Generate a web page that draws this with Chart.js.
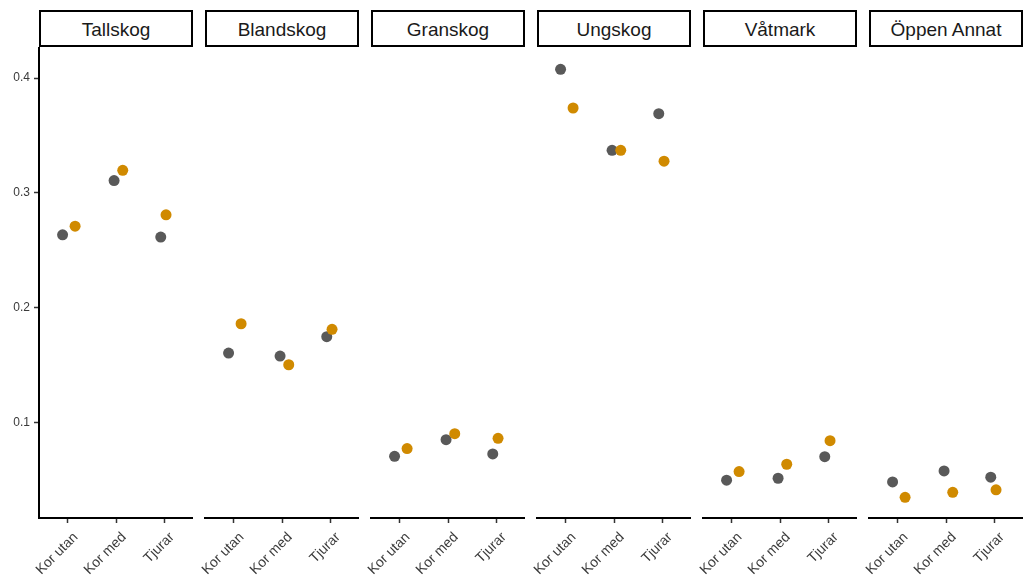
<!DOCTYPE html>
<html>
<head>
<meta charset="utf-8">
<script src="https://cdn.jsdelivr.net/npm/chart.js@4"></script>
<style>
  html, body { margin: 0; padding: 0; background: #fff; }
  #wrap { position: relative; width: 1023px; height: 578px; overflow: hidden; }
  canvas { position: absolute; }
  .strip {
    position: absolute; top: 10px; height: 37px; width: 154px;
    box-sizing: border-box; border: 2px solid #000;
    display: flex; align-items: center; justify-content: center;
    font-family: "Liberation Sans", Arial, sans-serif; font-size: 19px; color: #1a1a1a;
    padding-top: 2px;
  }
</style>
</head>
<body>
<div id="wrap"></div>
<script>
// Facetted dot chart: one small scatter per habitat, grey vs orange group per category

const panels = ["Tallskog", "Blandskog", "Granskog", "Ungskog", "Våtmark", "Öppen Annat"]
const categories = ["Kor utan", "Kor med", "Tjurar"]

// one row per panel, one value per category
const greySeries = [
  [0.2635, 0.3107, 0.2615],
  [0.1606, 0.1580, 0.1748],
  [0.0707, 0.0852, 0.0728],
  [0.4076, 0.3371, 0.3690],
  [0.0499, 0.0516, 0.0704],
  [0.0484, 0.0580, 0.0525]
]
const orangeSeries = [
  [0.2710, 0.3197, 0.2809],
  [0.1861, 0.1504, 0.1812],
  [0.0774, 0.0904, 0.0864],
  [0.3739, 0.3371, 0.3276],
  [0.0574, 0.0638, 0.0843],
  [0.0350, 0.0394, 0.0415]
]

// horizontal jitter (category units), same in every panel
const greyJitter = [-0.11, -0.04, -0.07]
const orangeJitter = [0.15, 0.14, 0.04]

const yTicks = [0.1, 0.2, 0.3, 0.4]
const yTickLabels = ["0.1", "0.2", "0.3", "0.4"]

const GREY = "#595959"
const ORANGE = "#D08A00"
const PANEL_LEFT = 39
const PANEL_STEP = 166
const PANEL_WIDTH = 154
const AXIS_W = 39

const wrap = document.getElementById("wrap")

function toPoints(values, jitter) {
  return values.map((v, i) => ({ x: i + 1 + jitter[i], y: v }))
}

function makePanel(idx) {
  const left = PANEL_LEFT + idx * PANEL_STEP
  const showY = idx === 0

  const strip = document.createElement("div")
  strip.className = "strip"
  strip.style.left = left + "px"
  strip.textContent = panels[idx]
  wrap.appendChild(strip)

  const canvas = document.createElement("canvas")
  canvas.width = AXIS_W + PANEL_WIDTH
  canvas.height = 531
  canvas.style.left = (left - AXIS_W) + "px"
  canvas.style.top = "47px"
  wrap.appendChild(canvas)

  new Chart(canvas, {
    type: "scatter",
    data: {
      datasets: [
        {
          data: toPoints(greySeries[idx], greyJitter),
          backgroundColor: GREY,
          pointRadius: 5.5,
          borderWidth: 0,
          order: 2
        },
        {
          data: toPoints(orangeSeries[idx], orangeJitter),
          backgroundColor: ORANGE,
          pointRadius: 5.5,
          borderWidth: 0,
          order: 1
        }
      ]
    },
    options: {
      responsive: false,
      animation: false,
      events: [],
      layout: { padding: 0, autoPadding: false },
      plugins: { legend: { display: false }, tooltip: { enabled: false } },
      scales: {
        x: {
          type: "linear",
          min: 0.4,
          max: 3.6,
          afterBuildTicks: scale => {
            scale.ticks = categories.map((c, i) => ({ value: i + 1 }))
          },
          afterFit: scale => {
            scale.height = 60
            scale.paddingLeft = 0
            scale.paddingRight = 0
          },
          grid: {
            display: true,
            drawOnChartArea: false,
            drawTicks: true,
            tickLength: 5,
            tickColor: "#333",
            tickWidth: 1.5
          },
          border: { display: true, color: "#000", width: 2 },
          ticks: {
            autoSkip: false,
            minRotation: 45,
            maxRotation: 45,
            padding: 6,
            labelOffset: 8,
            color: "#3a3a3a",
            font: { family: "'Liberation Sans', Arial, sans-serif", size: 14 },
            callback: value => categories[Math.round(value) - 1]
          }
        },
        y: {
          min: 0.017,
          max: 0.427,
          afterBuildTicks: scale => {
            scale.ticks = yTicks.map(v => ({ value: v }))
          },
          afterFit: scale => {
            scale.width = AXIS_W
            scale.paddingTop = 0
            scale.paddingBottom = 0
          },
          grid: {
            display: showY,
            drawOnChartArea: false,
            drawTicks: true,
            tickLength: 5,
            tickColor: "#333",
            tickWidth: 1.5
          },
          border: { display: showY, color: "#000", width: 2 },
          ticks: {
            display: showY,
            padding: 4,
            color: "#3a3a3a",
            font: { family: "'Liberation Sans', Arial, sans-serif", size: 12 },
            callback: value => yTickLabels[yTicks.indexOf(value)]
          }
        }
      }
    }
  })
}

panels.forEach((p, i) => makePanel(i))
</script>
</body>
</html>
